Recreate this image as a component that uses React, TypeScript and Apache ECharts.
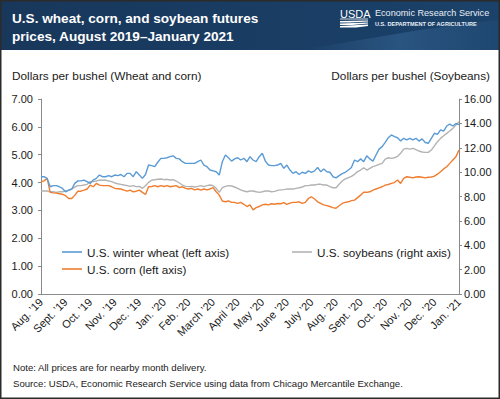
import React, { useEffect, useRef } from "react";
import * as echarts from "echarts";

const monthLabels = [
  "Aug. ’19", "Sept. ’19", "Oct. ’19", "Nov. ’19", "Dec. ’19", "Jan. ’20",
  "Feb. ’20", "March ’20", "April ’20", "May ’20", "June ’20", "July ’20",
  "Aug. ’20", "Sept. ’20", "Oct. ’20", "Nov. ’20", "Dec. ’20", "Jan. ’21",
];
// eight samples per month
const sampleDays = ["1", "5", "9", "13", "16", "20", "24", "28"];

// Dollars per bushel, Aug 2019 .. Jan 2021
const wheat = [
  4.21, 4.21, 4.15, 3.85, 3.89, 3.89, 3.85, 3.79,
  3.67, 3.73, 3.77, 3.97, 4.06, 4.06, 4.09, 4.03,
  3.97, 4.09, 4.15, 4.27, 4.21, 4.21, 4.25, 4.21,
  4.27, 4.25, 4.29, 4.21, 4.33, 4.33, 4.21, 4.39,
  4.27, 4.15, 4.29, 4.63, 4.61, 4.57, 4.73, 4.87,
  4.87, 4.89, 4.93, 4.96, 4.87, 4.85, 4.75, 4.69,
  4.69, 4.69, 4.69, 4.75, 4.81, 4.63, 4.57, 4.45,
  4.42, 4.39, 4.27, 4.75, 4.99, 4.89, 4.77, 4.85,
  4.89, 4.81, 4.87, 4.75, 4.93, 4.81, 4.75, 4.93,
  5.05, 4.77, 4.63, 4.61, 4.61, 4.63, 4.69, 4.51,
  4.63, 4.45, 4.33, 4.39, 4.29, 4.37, 4.33, 4.42,
  4.37, 4.42, 4.54, 4.39, 4.49, 4.39, 4.37, 4.21,
  4.17, 4.25, 4.32, 4.37, 4.45, 4.54, 4.81, 4.75,
  4.85, 4.75, 4.96, 4.85, 4.77, 4.99, 5.20, 5.29,
  5.44, 5.61, 5.71, 5.65, 5.61, 5.49, 5.59, 5.53,
  5.59, 5.53, 5.59, 5.49, 5.57, 5.44, 5.41, 5.59,
  5.77, 5.73, 5.89, 5.85, 6.03, 6.10, 6.03, 6.12,
  6.08,
];
const corn = [
  4.03, 4.06, 4.15, 3.65, 3.63, 3.62, 3.60, 3.58,
  3.53, 3.43, 3.43, 3.55, 3.69, 3.69, 3.73, 3.77,
  3.91, 3.85, 3.97, 3.91, 3.89, 3.89, 3.89, 3.85,
  3.79, 3.78, 3.77, 3.73, 3.69, 3.73, 3.67, 3.69,
  3.73, 3.65, 3.57, 3.85, 3.86, 3.89, 3.85, 3.89,
  3.86, 3.89, 3.85, 3.87, 3.89, 3.82, 3.85, 3.79,
  3.77, 3.79, 3.74, 3.77, 3.73, 3.77, 3.74, 3.77,
  3.82, 3.67, 3.55, 3.34, 3.31, 3.34, 3.29, 3.29,
  3.25, 3.29, 3.22, 3.14, 3.20, 3.02, 3.10, 3.14,
  3.20, 3.22, 3.20, 3.24, 3.22, 3.25, 3.24, 3.28,
  3.22, 3.26, 3.29, 3.29, 3.31, 3.25, 3.29, 3.43,
  3.49, 3.41, 3.31, 3.25, 3.20, 3.17, 3.14, 3.10,
  3.08, 3.17, 3.25, 3.29, 3.31, 3.35, 3.37, 3.46,
  3.55, 3.65, 3.65, 3.67, 3.73, 3.77, 3.81, 3.85,
  3.91, 3.93, 3.97, 4.00, 4.09, 3.97, 4.15, 4.21,
  4.19, 4.17, 4.20, 4.21, 4.19, 4.17, 4.19, 4.20,
  4.23, 4.30, 4.39, 4.49, 4.57, 4.69, 4.81, 4.93,
  5.17,
];
const soybeans = [
  8.45, 8.45, 8.45, 8.39, 8.39, 8.34, 8.39, 8.39,
  8.45, 8.50, 8.61, 8.78, 8.89, 8.89, 8.94, 9.00,
  9.22, 9.22, 9.27, 9.35, 9.33, 9.35, 9.27, 9.22,
  9.11, 9.05, 9.00, 8.94, 8.89, 8.83, 8.89, 8.81,
  8.83, 8.67, 8.89, 9.16, 9.33, 9.38, 9.41, 9.44,
  9.38, 9.41, 9.35, 9.38, 9.27, 9.11, 8.94, 8.83,
  8.81, 8.83, 8.78, 8.83, 8.89, 8.81, 8.89, 8.94,
  8.89, 8.67, 8.34, 8.72, 8.83, 8.89, 8.86, 8.78,
  8.67, 8.54, 8.45, 8.39, 8.45, 8.45, 8.39, 8.34,
  8.39, 8.45, 8.45, 8.39, 8.42, 8.50, 8.54, 8.56,
  8.61, 8.61, 8.61, 8.67, 8.72, 8.78, 8.89, 8.89,
  8.94, 8.94, 9.00, 9.00, 8.94, 8.94, 8.81, 8.72,
  8.72, 9.00, 9.27, 9.44, 9.54, 9.65, 9.82, 10.04,
  10.17, 10.36, 10.17, 10.31, 10.45, 10.53, 10.64, 10.72,
  11.07, 11.18, 11.13, 11.18, 11.29, 11.54, 11.89, 11.95,
  11.89, 11.95, 11.84, 11.73, 11.65, 11.62, 11.62, 11.81,
  12.16, 12.50, 12.77, 12.98, 13.18, 13.37, 13.59, 13.86,
  14.13,
];

const leftTicks = [0, 7, 1];
const rightTicks = [0, 16, 2];

const seriesNames = [
  "U.S. winter wheat (left axis)",
  "U.S. corn (left axis)",
  "U.S. soybeans (right axis)",
];

const categories: string[] = [];
monthLabels.forEach((m, i) => {
  if (i < monthLabels.length - 1) sampleDays.forEach((d) => categories.push(m + "|" + d));
  else categories.push(m + "|1");
});
const perMonth = sampleDays.length;

const FONT = "'Liberation Sans', Arial, Helvetica, sans-serif";
const TXT = "#1a1a1a";
const AXIS = "#8a8a8a";
const C_WHEAT = "#5b9bd5";
const C_CORN = "#f07d2e";
const C_SOY = "#b3b3b3";

export default function App() {
  const ref = useRef<HTMLDivElement>(null);
  useEffect(() => {
    if (!ref.current) return;
    const chart = echarts.init(ref.current, undefined, { renderer: "svg" });
    const legendText = { fontSize: 11.7, color: TXT, fontFamily: FONT, lineHeight: 14 };
    chart.setOption({
      animation: false,
      backgroundColor: "#ffffff",
      textStyle: { fontFamily: FONT },
      grid: { left: 41, right: 41, top: 99, bottom: 105 },
      legend: [
        {
          data: [
            { name: seriesNames[0], itemStyle: { color: C_WHEAT } },
            { name: seriesNames[1], itemStyle: { color: C_CORN } },
          ],
          orient: "vertical",
          left: 57,
          top: 240,
          icon: "rect",
          itemWidth: 20,
          itemHeight: 1.6,
          itemGap: 3,
          selectedMode: false,
          textStyle: legendText,
        },
        {
          data: [{ name: seriesNames[2], itemStyle: { color: C_SOY } }],
          orient: "vertical",
          left: 287,
          top: 240,
          icon: "rect",
          itemWidth: 20,
          itemHeight: 1.6,
          selectedMode: false,
          textStyle: legendText,
        },
      ],
      xAxis: {
        type: "category",
        data: categories,
        boundaryGap: false,
        axisLine: { lineStyle: { color: AXIS, width: 1 } },
        axisTick: { show: false },
        splitLine: { show: false },
        axisLabel: {
          interval: (i: number) => i % perMonth === 0,
          rotate: 45,
          margin: 6,
          fontSize: 11,
          color: TXT,
          fontFamily: FONT,
          formatter: (v: string) => v.split("|")[0],
        },
      },
      yAxis: [
        {
          type: "value",
          position: "left",
          min: leftTicks[0],
          max: leftTicks[1],
          interval: leftTicks[2],
          axisLine: { show: true, lineStyle: { color: AXIS, width: 1 } },
          axisTick: { show: true, length: 3, lineStyle: { color: AXIS } },
          splitLine: { show: false },
          axisLabel: {
            margin: 8,
            fontSize: 11,
            color: TXT,
            fontFamily: FONT,
            formatter: (v: number) => v.toFixed(2),
          },
        },
        {
          type: "value",
          position: "right",
          min: rightTicks[0],
          max: rightTicks[1],
          interval: rightTicks[2],
          axisLine: { show: true, lineStyle: { color: AXIS, width: 1 } },
          axisTick: { show: true, length: 3, lineStyle: { color: AXIS } },
          splitLine: { show: false },
          axisLabel: {
            margin: 5,
            fontSize: 11,
            color: TXT,
            fontFamily: FONT,
            formatter: (v: number) => v.toFixed(2),
          },
        },
      ],
      series: [
        {
          name: seriesNames[2],
          type: "line",
          yAxisIndex: 1,
          data: soybeans,
          symbol: "none",
          color: C_SOY,
          lineStyle: { width: 1.4, color: C_SOY },
        },
        {
          name: seriesNames[1],
          type: "line",
          yAxisIndex: 0,
          data: corn,
          symbol: "none",
          color: C_CORN,
          lineStyle: { width: 1.4, color: C_CORN },
        },
        {
          name: seriesNames[0],
          type: "line",
          yAxisIndex: 0,
          data: wheat,
          symbol: "none",
          color: C_WHEAT,
          lineStyle: { width: 1.4, color: C_WHEAT },
        },
      ],
      graphic: [
        {
          type: "rect",
          shape: { x: 0, y: 0, width: 500, height: 50 },
          style: {
            fill: new echarts.graphic.LinearGradient(0, 0, 1, 0, [
              { offset: 0, color: "#18375b" },
              { offset: 1, color: "#1b426a" },
            ]),
          },
          silent: true,
        },
        {
          type: "polygon",
          shape: {
            points: [
              [300, 50], [360, 40], [420, 30], [480, 22], [500, 20], [500, 50],
            ],
          },
          style: {
            fill: new echarts.graphic.LinearGradient(0, 0, 1, 0, [
              { offset: 0, color: "rgba(60,110,160,0)" },
              { offset: 0.5, color: "rgba(60,110,160,0.45)" },
              { offset: 1, color: "rgba(60,110,160,0.1)" },
            ]),
          },
          silent: true,
        },
        {
          type: "text",
          left: 12,
          top: 9,
          style: {
            text: "U.S. wheat, corn, and soybean futures\nprices, August 2019–January 2021",
            fill: "#ffffff",
            font: `bold 13.6px ${FONT}`,
            lineHeight: 18,
          },
          silent: true,
        },
        {
          type: "text",
          left: 340,
          top: 8,
          style: { text: "USDA", fill: "#ffffff", font: `11px ${FONT}` },
          silent: true,
        },
        {
          type: "line",
          shape: { x1: 340, y1: 19, x2: 368, y2: 19 },
          style: { stroke: "#ffffff", lineWidth: 0.8 },
          silent: true,
        },
        {
          type: "polygon",
          shape: { points: [[340, 21], [368, 20.5], [368, 21.5], [350, 22.5], [340, 22.5]] },
          style: { fill: "#ffffff" },
          silent: true,
        },
        {
          type: "polygon",
          shape: { points: [[340, 23.5], [368, 22.5], [368, 23.5], [352, 25], [340, 25]] },
          style: { fill: "#ffffff" },
          silent: true,
        },
        {
          type: "polygon",
          shape: { points: [[340, 26], [368, 24.5], [368, 26], [356, 27.5], [340, 27.5]] },
          style: { fill: "#ffffff" },
          silent: true,
        },
        {
          type: "text",
          left: 375,
          top: 8,
          style: { text: "Economic Research Service", fill: "#e8eef5", font: `9.1px ${FONT}` },
          silent: true,
        },
        {
          type: "text",
          left: 375,
          top: 21,
          style: { text: "U.S. DEPARTMENT OF AGRICULTURE", fill: "#e8eef5", font: `bold 5.6px ${FONT}` },
          silent: true,
        },
        {
          type: "text",
          left: 12,
          top: 70,
          style: { text: "Dollars per bushel (Wheat and corn)", fill: TXT, font: `11.8px ${FONT}` },
          silent: true,
        },
        {
          type: "text",
          right: 10,
          top: 70,
          style: { text: "Dollars per bushel (Soybeans)", fill: TXT, font: `11.8px ${FONT}`, align: "right" },
          silent: true,
        },
        {
          type: "text",
          left: 13,
          top: 362,
          style: { text: "Note: All prices are for nearby month delivery.", fill: TXT, font: `9.6px ${FONT}` },
          silent: true,
        },
        {
          type: "text",
          left: 13,
          top: 378,
          style: {
            text: "Source: USDA, Economic Research Service using data from Chicago Mercantile Exchange.",
            fill: TXT,
            font: `9.6px ${FONT}`,
          },
          silent: true,
        },
        {
          type: "rect",
          shape: { x: 0.75, y: 0.75, width: 498.5, height: 397.5 },
          style: { fill: "none", stroke: "#2b2b2b", lineWidth: 1.5 },
          silent: true,
          z: 100,
        },
      ],
    });
    return () => chart.dispose();
  }, []);
  return (
    <div
      ref={ref}
      style={{ position: "fixed", left: 0, top: 0, width: 500, height: 399 }}
    />
  );
}
